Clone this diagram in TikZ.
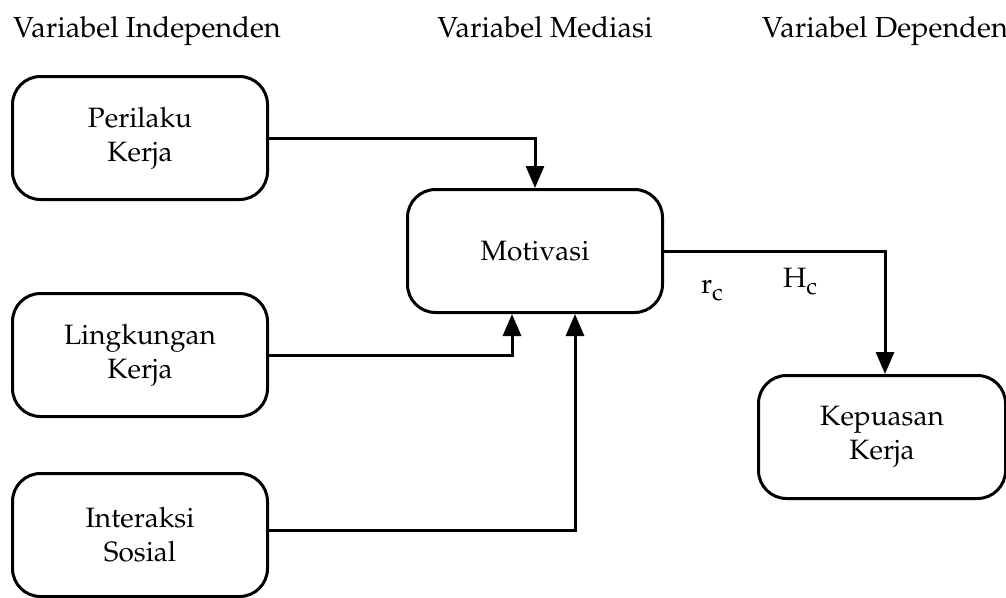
\documentclass[tikz,border=0pt]{standalone}
\usepackage[T1]{fontenc}
\usepackage{mathpazo}
\usetikzlibrary{arrows.meta}

\newcommand\subc[1]{#1\raisebox{-7pt}{\fontsize{24}{28}\selectfont c}}

\begin{document}
\begin{tikzpicture}[
        x=1pt, y=-1pt,
        font=\fontsize{28}{34}\selectfont,
        V/.style={draw, line width=3pt, rounded corners=28pt, align=center,
            minimum width=255pt, minimum height=123pt, inner sep=0pt},
        A/.style={line width=3pt, -{Triangle[length=22pt,width=18pt]}},
        H/.style={inner sep=0pt, anchor=base, font=\fontsize{29}{34}\selectfont}
    ]
    \useasboundingbox (0,0) rectangle (1006,597);

    % judul kolom
    \node[H] (hInd) at (147,37) {Variabel Independen};
    \node[H] (hMed) at (545,37) {Variabel Mediasi};
    \node[H] (hDep) at (885,37) {Variabel Dependen};

    % variabel
    \node[V] (perilaku) at (140,138) {Perilaku\\Kerja};
    \node[V] (lingkungan) at (140,355) {Lingkungan\\Kerja};
    \node[V] (interaksi) at (140,535) {Interaksi\\Sosial};
    \node[V] (motivasi) at (535,251) {Motivasi};
    \node[V, minimum width=247pt] (kepuasan) at (882,437) {Kepuasan\\Kerja};

    % hubungan
    \draw[A] (perilaku.east) -| (motivasi.north);
    \draw[A] (lingkungan.east) -| ([xshift=-23pt]motivasi.south);
    \draw[A] ([yshift=5pt]interaksi.east) -| ([xshift=40pt]motivasi.south);
    \draw[A] (motivasi.east) -| ([xshift=3pt]kepuasan.north);

    \node[inner sep=0pt] (rc) at (712,290) {\subc{r}};
    \node[inner sep=0pt] (Hc) at (800,282) {\subc{H}};
\end{tikzpicture}
\end{document}
